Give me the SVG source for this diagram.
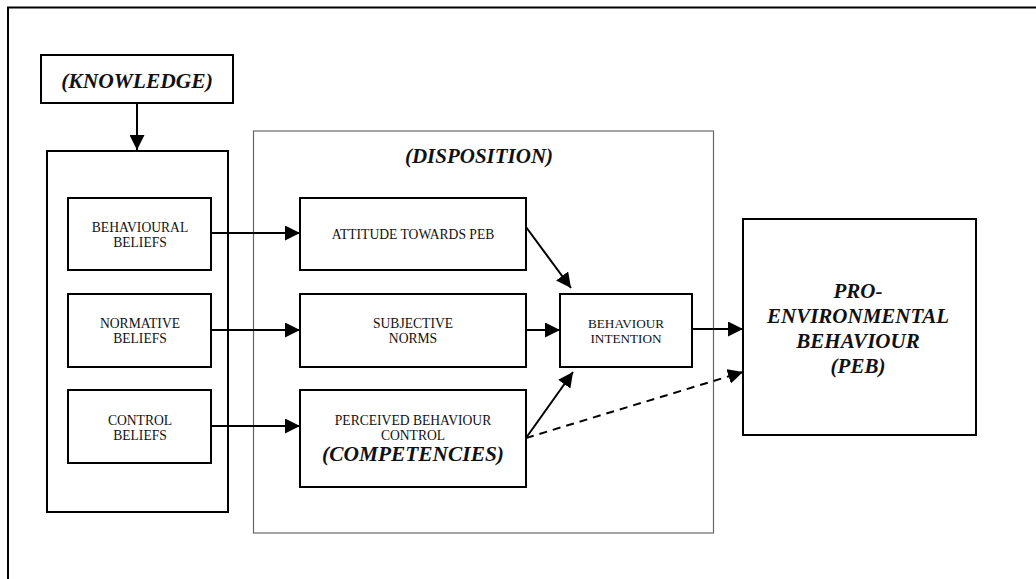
<svg xmlns="http://www.w3.org/2000/svg" width="1036" height="579" viewBox="0 0 1036 579">
<style>
.box{fill:#fff;stroke:#000;stroke-width:2}
.thin{fill:none;stroke:#666;stroke-width:1.2}
.t{font-family:"Liberation Serif","Times New Roman",serif;font-size:13.6px;fill:#111;text-anchor:middle}
.s{font-size:13.2px}
.bi{font-family:"Liberation Serif","Times New Roman",serif;font-weight:bold;font-style:italic;fill:#111;text-anchor:middle}
.c{stroke:#000;stroke-width:2;fill:none}
.d{stroke-dasharray:8,6}
</style>
<defs>
<marker id="ah" viewBox="0 0 10 10" refX="10" refY="5" markerWidth="7.5" markerHeight="7.5" markerUnits="strokeWidth" orient="auto">
<path d="M0,0 L10,5 L0,10 z" fill="#000"/>
</marker>
</defs>
<rect width="1036" height="579" fill="#fff"/>
<path d="M8,579 V7.5 H1036" fill="none" stroke="#000" stroke-width="2"/>
<g id="disposition">
<rect class="thin" x="253.5" y="131" width="460" height="402"/>
<text class="bi" x="479" y="163" font-size="21">(DISPOSITION)</text>
</g>
<g id="knowledge">
<rect class="box" x="41" y="55" width="192" height="48"/>
<text class="bi" x="137" y="88" font-size="21.5">(KNOWLEDGE)</text>
</g>
<g id="beliefs-group">
<rect class="box" x="47" y="151" width="181" height="361"/>
</g>
<g id="behavioural-beliefs">
<rect class="box" x="68" y="198" width="143" height="72"/>
<text class="t" x="140" y="232">BEHAVIOURAL</text>
<text class="t" x="140" y="247">BELIEFS</text>
</g>
<g id="normative-beliefs">
<rect class="box" x="68" y="294" width="143" height="73"/>
<text class="t" x="140" y="328">NORMATIVE</text>
<text class="t" x="140" y="343">BELIEFS</text>
</g>
<g id="control-beliefs">
<rect class="box" x="68" y="390" width="143" height="73"/>
<text class="t" x="140" y="425">CONTROL</text>
<text class="t" x="140" y="440">BELIEFS</text>
</g>
<g id="attitude">
<rect class="box" x="300" y="198" width="226" height="72"/>
<text class="t" x="413" y="239">ATTITUDE TOWARDS PEB</text>
</g>
<g id="subjective-norms">
<rect class="box" x="300" y="294" width="226" height="73"/>
<text class="t" x="413" y="328">SUBJECTIVE</text>
<text class="t" x="413" y="343">NORMS</text>
</g>
<g id="perceived-control">
<rect class="box" x="300" y="390" width="226" height="97"/>
<text class="t" x="413" y="425">PERCEIVED BEHAVIOUR</text>
<text class="t" x="413" y="440">CONTROL</text>
<text class="bi" x="413" y="461" font-size="21.4">(COMPETENCIES)</text>
</g>
<g id="behaviour-intention">
<rect class="box" x="560" y="294" width="132" height="73"/>
<text class="t s" x="626" y="328">BEHAVIOUR</text>
<text class="t s" x="626" y="343">INTENTION</text>
</g>
<g id="peb">
<rect class="box" x="743" y="219" width="233" height="216"/>
<text class="bi" x="858" y="298" font-size="21">PRO-</text>
<text class="bi" x="858" y="323" font-size="21">ENVIRONMENTAL</text>
<text class="bi" x="858" y="348" font-size="21">BEHAVIOUR</text>
<text class="bi" x="858" y="373" font-size="21">(PEB)</text>
</g>
<g id="connectors">
<line class="c" x1="137" y1="103" x2="137" y2="150" marker-end="url(#ah)"/>
<line class="c" x1="211" y1="233" x2="300" y2="233" marker-end="url(#ah)"/>
<line class="c" x1="211" y1="330" x2="300" y2="330" marker-end="url(#ah)"/>
<line class="c" x1="211" y1="426" x2="300" y2="426" marker-end="url(#ah)"/>
<line class="c" x1="526" y1="227" x2="571" y2="288" marker-end="url(#ah)"/>
<line class="c" x1="526" y1="330" x2="560" y2="330" marker-end="url(#ah)"/>
<line class="c" x1="526" y1="438" x2="573" y2="372" marker-end="url(#ah)"/>
<line class="c" x1="692" y1="329" x2="743" y2="329" marker-end="url(#ah)"/>
<line class="c d" x1="526" y1="438" x2="743" y2="372" marker-end="url(#ah)"/>
</g>
</svg>
